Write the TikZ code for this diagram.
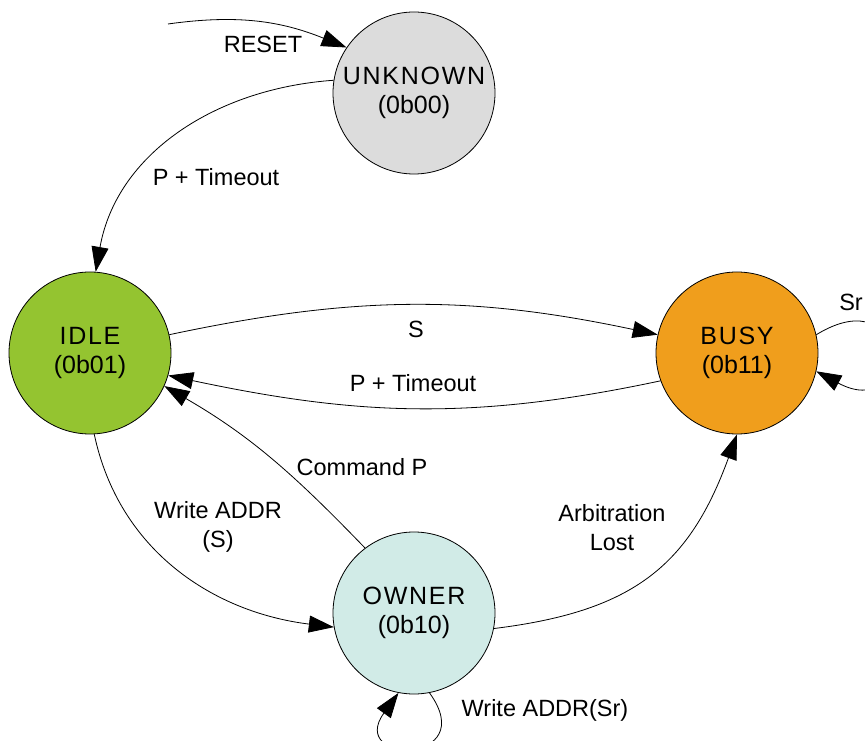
\documentclass[tikz,border=0pt]{standalone}
\usepackage{fontspec}
\setmainfont{Liberation Sans}
\usetikzlibrary{arrows.meta}
\definecolor{cunknown}{RGB}{220,220,220}
\definecolor{cidle}{RGB}{148,196,48}
\definecolor{cbusy}{RGB}{240,158,28}
\definecolor{cowner}{RGB}{209,235,231}
\newcommand\StName[1]{{\addfontfeature{LetterSpace=7}#1}}
\begin{document}
\begin{tikzpicture}[x=1pt,y=1pt,
  state/.style={circle, draw=black, line width=0.8pt, minimum size=162pt, inner sep=0pt,
    align=center, font=\fontsize{25}{29}\selectfont},
  edge/.style={draw=black, line width=0.8pt, -{Triangle[length=25pt,width=17pt]}},
  lbl/.style={align=center, font=\fontsize{23.5}{29}\selectfont, inner sep=0pt}]
\useasboundingbox (0,0) rectangle (865,740);
\fill[white] (0,0) rectangle (865,740);

\node[state, fill=cunknown] (unknown) at (414,647) {\StName{UNKNOWN}\\(0b00)};
\node[state, fill=cidle] (idle) at (90,387) {\StName{IDLE}\\(0b01)};
\node[state, fill=cbusy] (busy) at (737,387) {\StName{BUSY}\\(0b11)};
\node[state, fill=cowner] (owner) at (414,127) {\StName{OWNER}\\(0b10)};

\coordinate (resetstart) at (168,716);

\draw[edge] (resetstart) to[out=8, in=158] (unknown.146);
\draw[edge] (unknown.171) to[out=184, in=80] (idle.86);
\draw[edge] (idle.13) to[out=12, in=168] (busy.167);
\draw[edge] (busy.200) to[out=192, in=-12] (idle.-16);
\draw[edge] (owner.127) to[out=134, in=-30] (idle.-24);
\draw[edge] (idle.-87) to[out=-78, in=173] (owner.190);
\draw[edge] (owner.-11) to[out=7, in=250, looseness=1.15] (busy.-90);
\draw[edge] (busy.13) .. controls +(95,58) and +(97,-52) .. (busy.-13);
\draw[edge] (owner.-79) .. controls +(52,-72) and +(-52,-72) .. (owner.-101);

\node[lbl] (lreset) at (263,696) {RESET};
\node[lbl] (lpt1) at (216,563) {P + Timeout};
\node[lbl] (ls) at (416,411) {S};
\node[lbl] (lpt2) at (413,357) {P + Timeout};
\node[lbl] (lcmd) at (362,273) {Command P};
\node[lbl] (lwa) at (218,213) {Write ADDR\\(S)};
\node[lbl] (larb) at (612,212) {Arbitration\\Lost};
\node[lbl] (lsr) at (851,438) {Sr};
\node[lbl] (lwasr) at (545,30) {Write ADDR(Sr)};
\end{tikzpicture}
\end{document}
